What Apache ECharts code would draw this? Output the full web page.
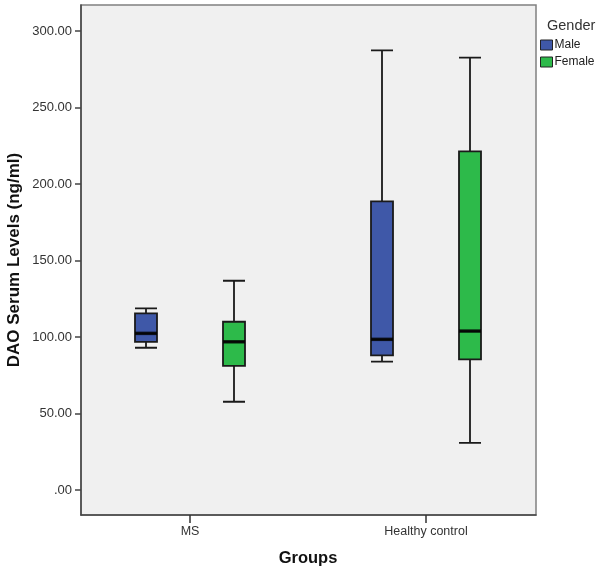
<!DOCTYPE html>
<html>
<head>
<meta charset="utf-8">
<script src="https://cdn.jsdelivr.net/npm/echarts@6/dist/echarts.min.js"></script>
<style>
html,body{margin:0;padding:0;background:#fff;}
#chart{width:600px;height:574px;}
</style>
</head>
<body>
<div id="chart"></div>
<script>
// ---- data ----
var groups = ['MS', 'Healthy control'];
var genders = ['Male', 'Female'];
// [min, Q1, median, Q3, max]
var maleBoxes = [
  [93.0, 96.9, 102.4, 115.5, 118.8],
  [83.9, 88.0, 98.5, 188.7, 287.4]
];
var femaleBoxes = [
  [57.7, 81.2, 96.9, 110.0, 136.8],
  [30.9, 85.4, 103.9, 221.3, 282.6]
];
var yTickValues = [0, 50, 100, 150, 200, 250, 300];
var yTickLabels = ['.00', '50.00', '100.00', '150.00', '200.00', '250.00', '300.00'];

var yMin = -16.3, yMax = 317;
var maleColor = '#3f58a8';
var femaleColor = '#2dba4a';
var font = '"Liberation Sans", Arial, sans-serif';

function medians(boxes) {
  return boxes.map(function (b, i) { return [groups[i], b[2]]; });
}

var chart = echarts.init(document.getElementById('chart'), null, {renderer: 'canvas'});

var hiddenY = function (gi) {
  return {type: 'value', gridIndex: gi, min: yMin, max: yMax, show: false};
};
var hiddenX = function (gi) {
  return {type: 'category', gridIndex: gi, data: groups, boundaryGap: true, show: false};
};
var gridBase = {top: 5, height: 510, containLabel: false, outerBoundsMode: 'none'};
function mkGrid(extra) { return Object.assign({}, gridBase, extra); }

var option = {
  animation: false,
  backgroundColor: '#ffffff',
  title: {
    text: 'Gender', left: 542, top: 13,
    textStyle: {fontFamily: font, fontSize: 14.5, fontWeight: 'normal', color: '#333'}
  },
  legend: {
    orient: 'vertical', left: 540, top: 39, padding: 0,
    itemWidth: 12, itemHeight: 10, itemGap: 5,
    icon: 'rect',
    data: [
      {name: 'Male', itemStyle: {color: maleColor, borderColor: '#222', borderWidth: 1}},
      {name: 'Female', itemStyle: {color: femaleColor, borderColor: '#222', borderWidth: 1}}
    ],
    textStyle: {fontFamily: font, fontSize: 12, color: '#222', padding: [0, 0, 0, -3]}
  },
  grid: [
    // frame / y-axis grid
    mkGrid({left: 81, width: 455, show: true, backgroundColor: '#f0f0f0', borderColor: '#808080', borderWidth: 1.5}),
    // category label grid
    mkGrid({left: 72, width: 472}),
    // male boxes grid
    mkGrid({left: 28, width: 472}),
    // female boxes grid
    mkGrid({left: 116, width: 472})
  ],
  xAxis: [
    {type: 'value', gridIndex: 0, min: 0, max: 1,
      axisLine: {show: true, onZero: false, lineStyle: {color: '#444', width: 1.5}},
      axisTick: {show: false}, axisLabel: {show: false}, splitLine: {show: false}},
    {type: 'category', gridIndex: 1, data: groups, boundaryGap: true, position: 'bottom',
      axisLine: {show: false, onZero: false},
      axisTick: {show: true, alignWithLabel: true, length: 8, lineStyle: {color: '#333', width: 1.5}},
      axisLabel: {fontFamily: font, fontSize: 12.5, color: '#333', margin: 10},
      name: 'Groups', nameLocation: 'middle', nameGap: 35, nameMoveOverlap: false,
      nameTextStyle: {fontFamily: font, fontSize: 16.5, fontWeight: 'bold', color: '#111'}},
    hiddenX(2),
    hiddenX(3)
  ],
  yAxis: [
    {type: 'value', gridIndex: 0, min: yMin, max: yMax,
      axisLine: {show: true, lineStyle: {color: '#444', width: 1.5}},
      axisTick: {show: true, length: 6, customValues: yTickValues, lineStyle: {color: '#444', width: 1.5}},
      axisLabel: {fontFamily: font, fontSize: 13, color: '#333', margin: 9, customValues: yTickValues,
        formatter: function (v) { var i = yTickValues.indexOf(v); return i >= 0 ? yTickLabels[i] : ''; }},
      splitLine: {show: false},
      name: 'DAO Serum Levels (ng/ml)', nameLocation: 'middle', nameGap: 58, nameMoveOverlap: false,
      nameTextStyle: {fontFamily: font, fontSize: 17, fontWeight: 'bold', color: '#111'}},
    hiddenY(1),
    hiddenY(2),
    hiddenY(3)
  ],
  series: [
    {name: 'Male', type: 'boxplot', xAxisIndex: 2, yAxisIndex: 2, boxWidth: [22, 22],
      itemStyle: {color: maleColor, borderColor: '#1a1a1a', borderWidth: 1.8},
      data: maleBoxes},
    {name: 'Female', type: 'boxplot', xAxisIndex: 3, yAxisIndex: 3, boxWidth: [22, 22],
      itemStyle: {color: femaleColor, borderColor: '#1a1a1a', borderWidth: 1.8},
      data: femaleBoxes},
    {name: 'Male median', type: 'scatter', xAxisIndex: 2, yAxisIndex: 2, symbol: 'rect', symbolSize: [22, 3.5],
      itemStyle: {color: '#000'}, z: 5, data: medians(maleBoxes)},
    {name: 'Female median', type: 'scatter', xAxisIndex: 3, yAxisIndex: 3, symbol: 'rect', symbolSize: [22, 3.5],
      itemStyle: {color: '#000'}, z: 5, data: medians(femaleBoxes)}
  ]
};
chart.setOption(option);
</script>
</body>
</html>
